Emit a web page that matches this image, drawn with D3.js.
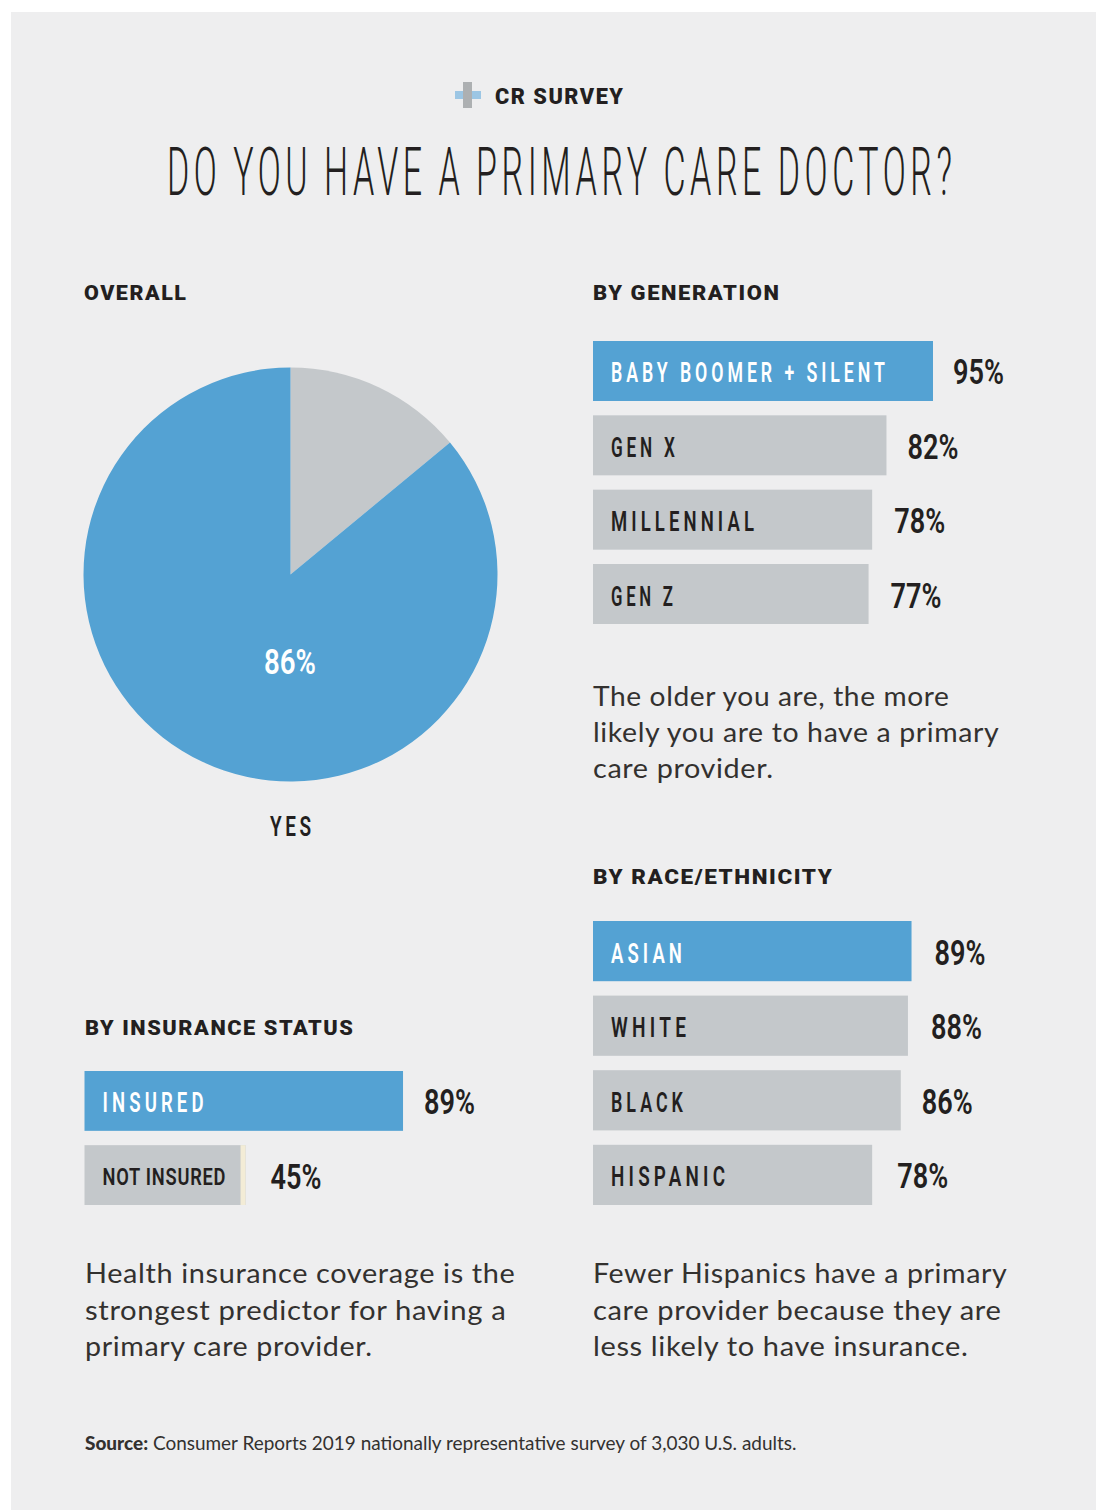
<!DOCTYPE html>
<html>
<head>
<meta charset="utf-8">
<script src="https://cdn.jsdelivr.net/npm/d3@7"></script>
<style>
html,body{margin:0;padding:0;background:#fff}
svg{display:block}
</style>
</head>
<body>
<div id="chart"></div>
<script>
// Survey results, percent answering yes
const overallLabel = "YES";
const overallYes = 86;
const generationNames = ["BABY BOOMER + SILENT", "GEN X", "MILLENNIAL", "GEN Z"];
const generationValues = [95, 82, 78, 77];
const raceNames = ["ASIAN", "WHITE", "BLACK", "HISPANIC"];
const raceValues = [89, 88, 86, 78];
const insuranceNames = ["INSURED", "NOT INSURED"];
const insuranceValues = [89, 45];

const generationNote = ["The older you are, the more", "likely you are to have a primary", "care provider."];
const insuranceNote = ["Health insurance coverage is the", "strongest predictor for having a", "primary care provider."];
const raceNote = ["Fewer Hispanics have a primary", "care provider because they are", "less likely to have insurance."];

const BLUE = "#54a2d3", GREY = "#c4c8cb", INK = "#231f20", PANEL = "#eeeeef", CREAM = "#f3ecd6";
const COND = "Roboto, sans-serif", BODY = "Lato, sans-serif";

const svg = d3.select("#chart").append("svg").attr("width", 1096).attr("height", 1510);
svg.append("rect").attr("x", 11).attr("y", 12).attr("width", 1085).attr("height", 1498).attr("fill", PANEL);

// Places text at a size, then squeezes or stretches it horizontally to the given run length
function fit(text, x, y, width, o) {
  const t = svg.append("text")
    .text(text)
    .attr("font-family", o.family || COND)
    .attr("font-size", o.size)
    .attr("font-weight", o.weight || 400)
    .attr("letter-spacing", o.spacing || 0)
    .attr("word-spacing", o.wordSpacing || 0)
    .attr("fill", o.fill || INK);
  const natural = t.node().getBBox().width - (o.spacing || 0);
  t.attr("transform", `translate(${x},${y}) scale(${width / natural},1)`);
  return t;
}

// Masthead
svg.append("rect").attr("x", 455).attr("y", 91).attr("width", 26).attr("height", 8).attr("fill", "#9cc6e4");
svg.append("rect").attr("x", 463).attr("y", 82).attr("width", 9).attr("height", 26).attr("fill", "#adb0b2");
fit("CR SURVEY", 495, 104, 128, {size: 21.5, weight: 900, spacing: 1.5});
fit("DO YOU HAVE A PRIMARY CARE DOCTOR?", 167, 195, 785, {size: 67, weight: 300, spacing: 9, wordSpacing: -2});

// Section headings
const headW = {size: 21, weight: 900, spacing: 1.5};
fit("OVERALL", 84, 300, 102, headW);
fit("BY GENERATION", 593, 300, 186, headW);
fit("BY RACE/ETHNICITY", 593, 884, 239, headW);
fit("BY INSURANCE STATUS", 85, 1035, 268, headW);

// Overall pie
const pieCx = 290.5, pieCy = 574.5, pieR = 207;
const pieData = [{k: "no", v: 100 - overallYes}, {k: "yes", v: overallYes}];
const slices = d3.pie().sort(null).value(d => d.v)(pieData);
const arc = d3.arc().innerRadius(0).outerRadius(pieR);
svg.append("g").attr("transform", `translate(${pieCx},${pieCy})`)
  .selectAll("path").data(slices).join("path")
  .attr("d", arc)
  .attr("fill", d => d.data.k === "yes" ? BLUE : GREY);
fit(overallYes + "%", 264, 674, 52, {size: 35, weight: 600, fill: "#fff"});
fit(overallLabel, 270, 836, 41, {size: 27, weight: 600, spacing: 5});

// Shared horizontal scale for every bar group
const x = d3.scaleLinear().domain([0, 95]).range([0, 340]);

const labelWidths = {
  "BABY BOOMER + SILENT": 274, "GEN X": 64, "MILLENNIAL": 143, "GEN Z": 62,
  "ASIAN": 71, "WHITE": 75, "BLACK": 72, "HISPANIC": 114,
  "INSURED": 101, "NOT INSURED": 123
};

function barGroup(names, values, left, top, bottom, valueGap) {
  const y = d3.scaleBand().domain(names).range([top, bottom]).paddingInner(0.193);
  names.forEach((n, i) => {
    const w = x(values[i]);
    const by = y(n), bh = y.bandwidth();
    const hi = i === 0;
    svg.append("rect").attr("x", left).attr("y", by).attr("width", w).attr("height", bh)
      .attr("fill", hi ? BLUE : GREY);
    if (n === "NOT INSURED") {
      svg.append("rect").attr("x", left + w - 5).attr("y", by).attr("width", 5).attr("height", bh)
        .attr("fill", CREAM);
    }
    const mid = by + bh / 2;
    const tight = n === "NOT INSURED";
    fit(n, left + 18, mid + (tight ? 10 : 11.5), labelWidths[n], {
      size: tight ? 24 : 27,
      weight: 600, spacing: tight ? 1 : 6,
      fill: hi ? "#fff" : INK
    });
    fit(values[i] + "%", left + w + valueGap[i], mid + 13.5, 51, {size: 35, weight: 600});
  });
}

barGroup(generationNames, generationValues, 593, 341, 624, [20, 21, 22, 22]);
barGroup(raceNames, raceValues, 593, 921, 1205, [23, 23, 21, 25]);
barGroup(insuranceNames, insuranceValues, 84.5, 1071, 1205, [21, 25]);

// Commentary
function note(lines, left, firstBase, step, widths) {
  lines.forEach((s, i) => {
    fit(s, left, firstBase + i * step, widths[i], {family: BODY, size: 27.5, weight: 400, spacing: 0.6, fill: "#33312f"});
  });
}
note(generationNote, 593, 706, 36.2, [356, 406, 180]);
note(insuranceNote, 85, 1283, 36.7, [430, 421, 287]);
note(raceNote, 593, 1283, 36.7, [414, 408, 375]);

// Source line
const src = svg.append("text").attr("x", 85).attr("y", 1450)
  .attr("font-family", BODY).attr("font-size", 19.5).attr("fill", "#33312f");
src.append("tspan").attr("font-weight", 900).text("Source:");
src.append("tspan").text(" Consumer Reports 2019 nationally representative survey of 3,030 U.S. adults.");
const srcW = src.node().getBBox().width;
src.attr("transform", `translate(85,0) scale(${712 / srcW},1) translate(-85,0)`);
</script>
</body>
</html>
